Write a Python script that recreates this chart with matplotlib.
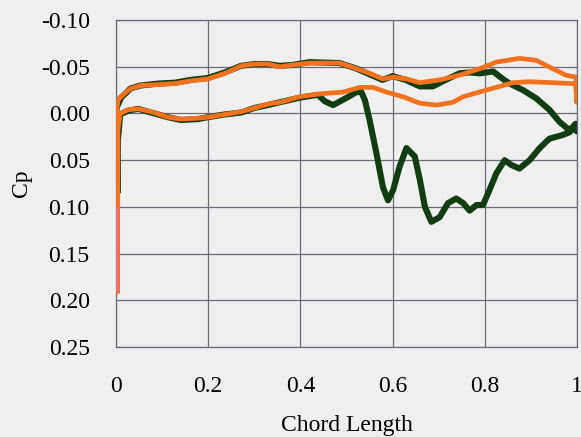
import numpy as np
import matplotlib
matplotlib.use("Agg")
import matplotlib.pyplot as plt

# Cp distributions (closed loops: upper surface LE->TE, lower TE->LE)
green_x = [0.003, 0.001, 0.011, 0.032, 0.054, 0.091, 0.128, 0.162, 0.199, 0.236,
           0.271, 0.301, 0.329, 0.355, 0.383, 0.420, 0.485, 0.522, 0.550, 0.578,
           0.600, 0.628, 0.659, 0.687, 0.715, 0.745, 0.767, 0.789, 0.818, 0.839,
           0.854, 0.883, 0.912, 0.940, 0.962, 0.984, 0.997, 0.999,
           0.995, 0.984, 0.969, 0.940, 0.919, 0.897, 0.875, 0.857, 0.843, 0.825,
           0.810, 0.796, 0.782, 0.767, 0.753, 0.738, 0.720, 0.702, 0.684, 0.670,
           0.659, 0.648, 0.630, 0.615, 0.601, 0.590, 0.579, 0.565, 0.550, 0.540,
           0.532, 0.522, 0.497, 0.471, 0.453, 0.438, 0.399, 0.355, 0.329, 0.301,
           0.271, 0.236, 0.199, 0.178, 0.141, 0.113, 0.076, 0.048, 0.026, 0.009,
           0.004, 0.003]
green_cp = [0.082, -0.006, -0.017, -0.027, -0.030, -0.032, -0.033, -0.036, -0.038, -0.044,
            -0.051, -0.053, -0.053, -0.051, -0.052, -0.055, -0.054, -0.048, -0.042, -0.036,
            -0.040, -0.036, -0.029, -0.029, -0.036, -0.043, -0.044, -0.043, -0.045, -0.037,
            -0.032, -0.025, -0.016, -0.004, 0.009, 0.018, 0.011, 0.019,
            0.014, 0.020, 0.023, 0.027, 0.037, 0.050, 0.059, 0.055, 0.050, 0.064,
            0.082, 0.098, 0.098, 0.104, 0.096, 0.091, 0.096, 0.111, 0.116, 0.100,
            0.071, 0.046, 0.037, 0.057, 0.082, 0.093, 0.079, 0.043, 0.007, -0.014,
            -0.023, -0.023, -0.016, -0.009, -0.013, -0.020, -0.017, -0.012, -0.009, -0.006,
            -0.001, 0.001, 0.004, 0.006, 0.007, 0.004, -0.001, -0.005, -0.003, 0.001,
            0.029, 0.082]

orange_x = [0.003, 0.002, 0.004, 0.011, 0.022, 0.033, 0.055, 0.091, 0.127, 0.163,
            0.199, 0.236, 0.272, 0.301, 0.329, 0.355, 0.384, 0.420, 0.485, 0.522,
            0.550, 0.579, 0.601, 0.630, 0.659, 0.702, 0.745, 0.789, 0.825, 0.875,
            0.911, 0.947, 0.976, 0.998, 0.999, 0.997,
            0.991, 0.947, 0.897, 0.861, 0.803, 0.753, 0.731, 0.695, 0.659, 0.622,
            0.586, 0.557, 0.529, 0.493, 0.442, 0.399, 0.355, 0.329, 0.301, 0.272,
            0.236, 0.199, 0.178, 0.141, 0.113, 0.076, 0.048, 0.026, 0.009, 0.004,
            0.003]
orange_cp = [0.19, -0.005, -0.014, -0.018, -0.023, -0.027, -0.030, -0.031, -0.032, -0.035,
             -0.037, -0.043, -0.051, -0.053, -0.053, -0.050, -0.052, -0.054, -0.054, -0.048,
             -0.043, -0.037, -0.039, -0.037, -0.033, -0.036, -0.041, -0.048, -0.055, -0.059,
             -0.057, -0.048, -0.041, -0.039, -0.012, -0.032,
             -0.032, -0.033, -0.034, -0.033, -0.025, -0.018, -0.012, -0.009, -0.011, -0.018,
             -0.023, -0.028, -0.028, -0.023, -0.021, -0.018, -0.012, -0.010, -0.006, -0.002,
             0.001, 0.004, 0.005, 0.006, 0.004, -0.002, -0.005, -0.004, 0.000, 0.018,
             0.19]

# thin pink trace at the leading edge
pink_x = [0.002, 0.002]
pink_cp = [0.10, 0.19]

x_ticks = [0, 0.2, 0.4, 0.6, 0.8, 1]
x_labels = ["0", "0.2", "0.4", "0.6", "0.8", "1"]
y_ticks = [-0.10, -0.05, 0.00, 0.05, 0.10, 0.15, 0.20, 0.25]

bg = "#efefef"
grid_c = "#6e6a78"

plt.rcParams["font.family"] = ["Liberation Serif", "DejaVu Serif"]

fig = plt.figure(figsize=(5.81, 4.37), dpi=100, facecolor=bg)
ax = fig.add_axes([0.1997, 0.206, 0.7935, 0.748])
ax.set_facecolor(bg)

ax.plot(green_x, green_cp, color="#123c12", lw=4.4, solid_joinstyle="round", zorder=3)
ax.plot(orange_x, orange_cp, color="#f4721e", lw=3.4, solid_joinstyle="round", zorder=4)
ax.plot(pink_x, pink_cp, color="#ee66cc", lw=1.0, zorder=5)

ax.set_xlim(0, 1)
ax.set_ylim(0.25, -0.10)
ax.set_xticks(x_ticks)
ax.set_xticklabels(x_labels)
ax.set_yticks(y_ticks)
ax.set_yticklabels([f"{v:.2f}" for v in y_ticks])
ax.tick_params(axis="both", length=0, labelsize=17)
ax.tick_params(axis="y", pad=19)
ax.tick_params(axis="x", pad=21)

ax.grid(True, color=grid_c, lw=0.9)
for s in ax.spines.values():
    s.set_color(grid_c)
    s.set_linewidth(0.9)

ax.set_xlabel("Chord Length", fontsize=17, labelpad=13)
ax.set_ylabel("Cp", fontsize=17, labelpad=6)

fig.savefig("out.png", dpi=100, facecolor=bg)
